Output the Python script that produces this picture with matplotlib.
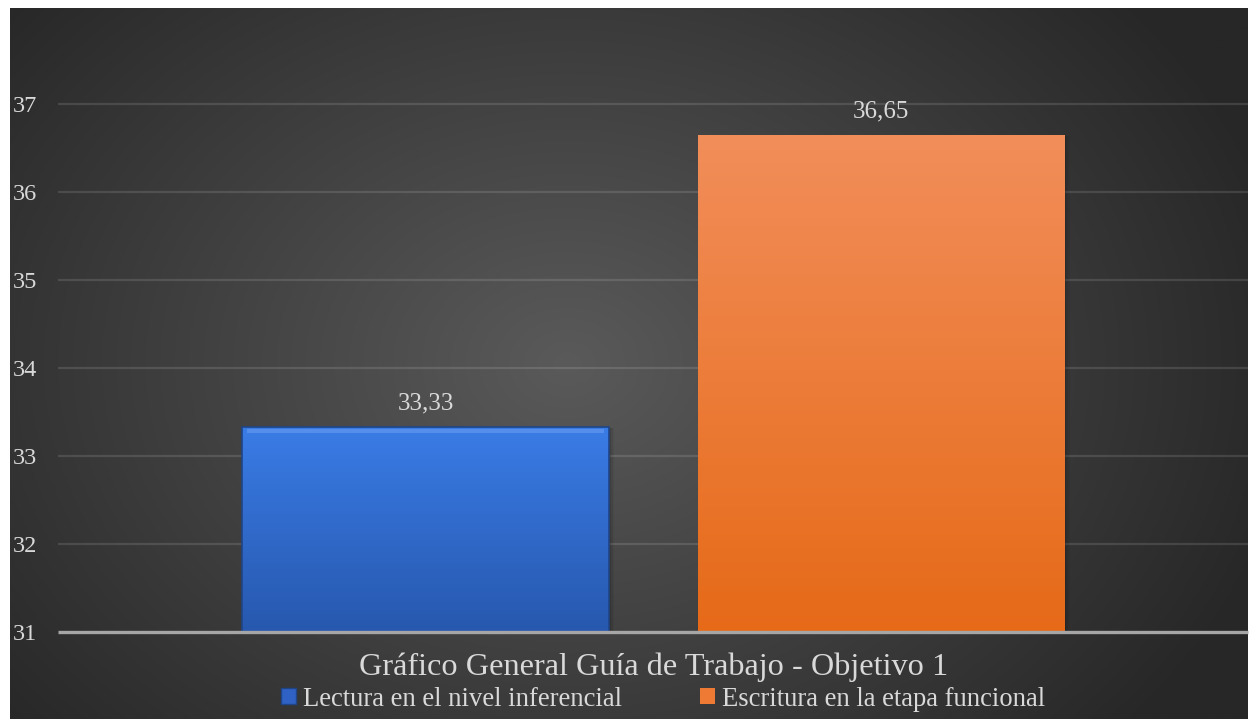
import numpy as np
import matplotlib
matplotlib.use("Agg")
import matplotlib.pyplot as plt
from matplotlib.patches import Patch

categories = ["Lectura en el nivel inferencial", "Escritura en la etapa funcional"]
values = [33.33, 36.65]
value_labels = ["33,33", "36,65"]
yticks = [31, 32, 33, 34, 35, 36, 37]
title = "Gráfico General Guía de Trabajo - Objetivo 1"

plt.rcParams['font.family'] = ['Liberation Serif', 'DejaVu Serif']

W, H = 1254, 719
fig = plt.figure(figsize=(W / 100, H / 100), dpi=100)
fig.patch.set_facecolor("white")

# background with radial gradient
bg = fig.add_axes([10 / W, 0, 1238 / W, 711 / H])
bg.set_axis_off()
yy, xx = np.mgrid[0:1:300j, 0:1:500j]
cx, cy = 0.45, 0.5
r = np.sqrt(((xx - cx) * 1.2) ** 2 + ((yy - cy) * 0.9) ** 2)
r = np.clip(r / 0.72, 0, 1)
c0 = np.array([0x5a, 0x5a, 0x5a]) / 255
c1 = np.array([0x27, 0x27, 0x27]) / 255
img = c0[None, None, :] * (1 - r[..., None]) + c1[None, None, :] * r[..., None]
bg.imshow(img, extent=[0, 1, 0, 1], aspect="auto", origin="upper")
bg.set_xlim(0, 1)
bg.set_ylim(0, 1)

# main axes
px_left, px_right = 58, 1248
bottom_px, top_px = 632, 16
ax = fig.add_axes([px_left / W, (H - bottom_px) / H, (px_right - px_left) / W, (bottom_px - top_px) / H])
ax.patch.set_alpha(0)
c_blue, c_orange = 425.5, 881.0
step = c_orange - c_blue
xmin = (px_left - c_blue) / step
xmax = (px_right - c_blue) / step
ax.set_xlim(xmin, xmax)
ax.set_ylim(31, 38)

x = np.arange(len(categories))
bar_w = 367 / step
colors_top = [np.array([0x3a, 0x7c, 0xe6]) / 255, np.array([0xf2, 0x8e, 0x5a]) / 255]
colors_bot = [np.array([0x27, 0x58, 0xae]) / 255, np.array([0xe6, 0x6a, 0x18]) / 255]
edgecols = ["#1f4588", "none"]

for t in yticks[1:]:
    ax.hlines(t, xmin, xmax, color="#ffffff", alpha=0.12, lw=1.6, zorder=1)

bars = ax.bar(x, [v - 31 for v in values], bottom=31, width=bar_w, color="none", zorder=3)
for i, b in enumerate(bars):
    x0, y0 = b.get_x(), b.get_y()
    w, h = b.get_width(), b.get_height()
    # shadow
    for k, a in enumerate([0.10, 0.07, 0.04]):
        ax.add_patch(plt.Rectangle((x0 + 0.004 * (k + 1), y0), w, h - 0.01, color="black",
                                   alpha=a, zorder=2, lw=0))
    g = np.linspace(0, 1, 200)[:, None, None]
    grad = colors_top[i][None, None, :] * (1 - g) + colors_bot[i][None, None, :] * g
    im = ax.imshow(grad, extent=[x0, x0 + w, y0, y0 + h], aspect="auto", origin="upper", zorder=3)
    im.set_clip_path(b)
    if i == 0:
        ax.add_patch(plt.Rectangle((x0, y0), w, h, fill=False, edgecolor=edgecols[i], lw=1.2, zorder=4))
        ax.add_patch(plt.Rectangle((x0 + 0.01, y0 + h - 0.07), w - 0.02, 0.05, color="#6a9cf0",
                                   alpha=0.6, lw=0, zorder=4))
    ax.annotate(value_labels[i], (x[i], values[i]), xytext=(0, 17), textcoords="offset points",
                ha="center", va="center", fontsize=18, color="#d9d9d9", zorder=5)

# axis line at 31
ax.hlines(31, xmin, xmax, color="#a6a6a6", lw=2.4, zorder=6, clip_on=False)

ax.set_yticks(yticks)
ax.set_yticklabels([str(t) for t in yticks])
ax.tick_params(axis="y", length=0, labelsize=17.5, labelcolor="#d9d9d9")
for lab in ax.get_yticklabels():
    lab.set_horizontalalignment("left")
ax.tick_params(axis="y", pad=(px_left - 13) * 0.72)
ax.set_xticks([])
for s in ax.spines.values():
    s.set_visible(False)

fig.text(654 / W, (H - 667) / H, title, ha="center", va="center", fontsize=23.2, color="#d9d9d9")

handles = [Patch(facecolor="#2f62c4", edgecolor="#1f4588", label=categories[0]),
           Patch(facecolor="#ee7a33", edgecolor="none", label=categories[1])]
leg = fig.legend(handles=handles, loc="center", bbox_to_anchor=(663 / W, (H - 699) / H), ncol=2,
                 frameon=False, fontsize=19.2, labelcolor="#d9d9d9", handlelength=0.55, handleheight=0.55,
                 handletextpad=0.25, columnspacing=2.95, borderpad=0, borderaxespad=0)

fig.savefig("out.png", dpi=100, facecolor=fig.get_facecolor())
